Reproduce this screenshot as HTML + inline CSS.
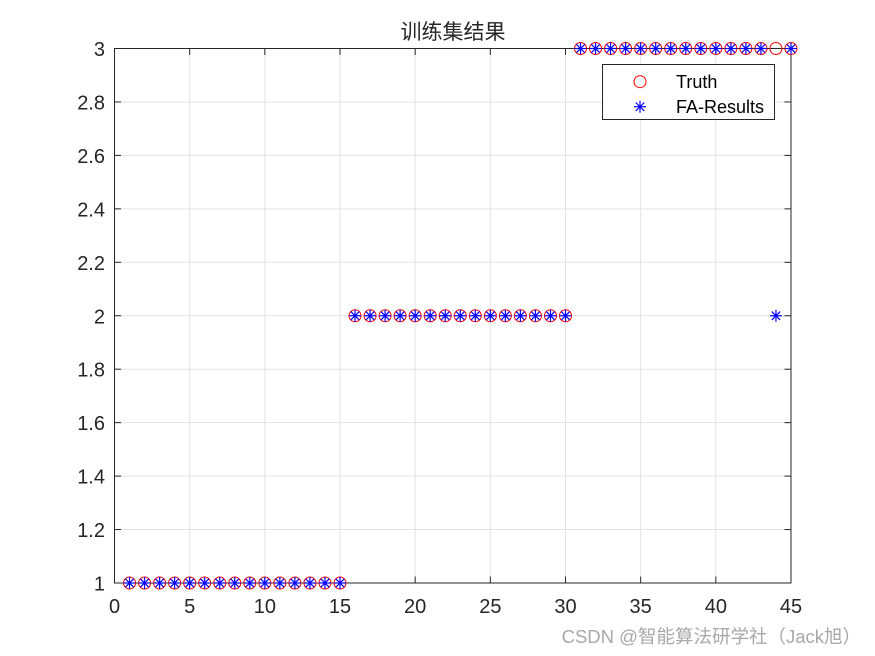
<!DOCTYPE html>
<html><head><meta charset="utf-8"><style>
html,body{margin:0;padding:0;background:#fff;}
svg{display:block;}
text{font-family:"Liberation Sans","Noto Sans CJK SC",sans-serif;}
</style></head><body>
<svg id="s" width="875" height="656" viewBox="0 0 875 656" xmlns="http://www.w3.org/2000/svg">
<rect width="875" height="656" fill="#fff"/>
<g id="grid" stroke="#e3e3e3" stroke-width="1"></g>
<g id="ticks" stroke="#262626" stroke-width="1"></g>
<rect x="114.5" y="48.5" width="676.5" height="534.5" fill="none" stroke="#262626" stroke-width="1"/>
<g id="lbl" fill="#262626" font-size="20"></g>
<text x="453" y="39" text-anchor="middle" font-size="21" fill="#262626" font-family="Liberation Sans, Noto Sans CJK SC, sans-serif">训练集结果</text>
<g id="circ" fill="none" stroke="#ff0000" stroke-width="1"></g>
<g id="ast" stroke="#0000ff" stroke-width="1.2"></g>
<rect x="602.5" y="64.5" width="172" height="55" fill="#fff" stroke="#262626" stroke-width="1"/>
<circle cx="640" cy="81.7" r="6" fill="none" stroke="#ff0000" stroke-width="1"/>
<g stroke="#0000ff" stroke-width="1.2">
<line x1="634" y1="106.7" x2="646" y2="106.7"/><line x1="640" y1="100.7" x2="640" y2="112.7"/>
<line x1="635.8" y1="102.5" x2="644.2" y2="110.9"/><line x1="635.8" y1="110.9" x2="644.2" y2="102.5"/>
</g>
<text x="676" y="88" font-size="18" fill="#000">Truth</text>
<text x="676" y="113" font-size="18" fill="#000">FA-Results</text>
<text x="861" y="643" text-anchor="end" font-size="18.5" fill="#a8a8a8" font-family="Liberation Sans, Noto Sans CJK SC, sans-serif">CSDN @智能算法研学社（Jack旭）</text>
</svg>
<script>
(function(){
var NS="http://www.w3.org/2000/svg";
var x0=114.5,x1=791,yb=583,yt=48.5;
function xs(v){return x0+v*(x1-x0)/45;}
function ys(v){return yb-(v-1)*(yb-yt)/2;}
function el(p,n,a,t){var e=document.createElementNS(NS,n);for(var k in a)e.setAttribute(k,a[k]);if(t!==undefined)e.textContent=t;document.getElementById(p).appendChild(e);return e;}
for(var v=0;v<=45;v+=5){var x=xs(v);
 if(v>0&&v<45)el("grid","line",{x1:x,y1:yt,x2:x,y2:yb});
 el("ticks","line",{x1:x,y1:yb,x2:x,y2:yb-6.5});
 el("ticks","line",{x1:x,y1:yt,x2:x,y2:yt+6.5});
 el("lbl","text",{x:x,y:613,"text-anchor":"middle"},String(v));
}
for(var k=0;k<=10;k++){var v=1+k*0.2;var y=ys(v);
 if(k>0&&k<10)el("grid","line",{x1:x0,y1:y,x2:x1,y2:y});
 el("ticks","line",{x1:x0,y1:y,x2:x0+6.5,y2:y});
 el("ticks","line",{x1:x1,y1:y,x2:x1-6.5,y2:y});
 var s=(Math.round(v*10)/10).toString();
 el("lbl","text",{x:105,y:y+7.5,"text-anchor":"end"},s);
}
for(var i=1;i<=45;i++){
 var t=i<=15?1:(i<=30?2:3);
 var r=t; if(i==44)r=2;
 el("circ","circle",{cx:xs(i),cy:ys(t),r:6});
 var cx=xs(i),cy=ys(r),a=6,d=4.2;
 el("ast","line",{x1:cx-a,y1:cy,x2:cx+a,y2:cy});
 el("ast","line",{x1:cx,y1:cy-a,x2:cx,y2:cy+a});
 el("ast","line",{x1:cx-d,y1:cy-d,x2:cx+d,y2:cy+d});
 el("ast","line",{x1:cx-d,y1:cy+d,x2:cx+d,y2:cy-d});
}
})();
</script>
</body></html>
